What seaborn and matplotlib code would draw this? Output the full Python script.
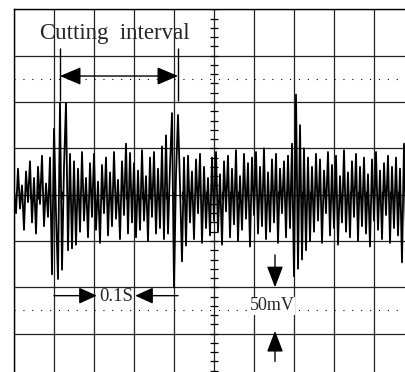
import numpy as np
import pandas as pd
import matplotlib
matplotlib.use('Agg')
import matplotlib.pyplot as plt
import seaborn as sns

# screen: 10 divisions across, 8 up/down
ms_per_div = 100 / 3      # 0.1 s spans three divisions
mv_per_div = 50
n_xdiv = 10
n_ydiv = 8

# trace peaks, one every 1.67 ms (mV)
signal_mv = [
    5, -20, 28, -15, 10, -38, 25, -8, 36, -30,
    18, -42, 30, -10, 42, -34, 12, -24, 40, -86,
    71, -20, -91, 99, -81, 30, 99, -60, 44, -58,
    36, -54, 28, -40, 46, -28, 18, -46, 34, -24,
    44, -38, 14, -52, 32, -20, 40, -44, 24, -34,
    46, -26, 16, -48, 36, -22, 55, -42, 45, -30,
    34, -46, 26, -38, 48, -28, 20, -50, 40, -24,
    46, -42, 28, -36, 52, -48, 64, -42, 30, 88,
    -100, 20, 86, 10, -72, 40, -55, 42, -30, 25,
    -48, 38, -20, 44, -52, 30, -36, 18, -44, 40,
    -28, 46, -40, 22, -54, 36, -18, 42, -46, 28,
    -32, 48, -50, 20, -38, 44, -26, 34, -56, 40,
    -22, 46, -42, 30, -34, 50, -48, 24, -40, 38,
    -30, 44, -52, 28, -20, 36, -46, 42, -36, 55,
    -88, 108, -80, 75, -70, 50, -60, 40, -50, 30,
    -40, 44, -28, 38, -52, 26, -20, 46, -44, 32,
    -36, 42, -54, 20, -30, 48, -40, 24, -46, 36,
    -24, 44, -50, 30, -34, 40, -42, 22, -56, 38,
    -28, 46, -38, 26, -48, 34, -22, 42, -52, 30,
    -36, 40, -44, 28, -73, 55, -40, 30, -50, 20,
]
sample_ms = 5 / 3

# annotations
cut_marks_ms = [38.3, 136.7]       # start / end of one cutting interval
cut_label = 'Cutting  interval'
period_label = '0.1S'
period_ms = [33.3, 136.7]
volt_label = '50mV'
volt_span_mv = [-100, -147]
volt_x_ms = 217.5

df = pd.DataFrame({'t': np.arange(len(signal_mv)) * sample_ms, 'mv': signal_mv})

sns.set_style('white')
plt.rcParams['font.family'] = ['Liberation Serif', 'DejaVu Serif']

fig = plt.figure(figsize=(4.05, 3.72), dpi=100)
ax = fig.add_axes([14 / 405, -8 / 372, 400 / 405, 370.7 / 372])

x_max = n_xdiv * ms_per_div
y_max = n_ydiv / 2 * mv_per_div
ax.set_xlim(0, x_max)
ax.set_ylim(-y_max, y_max)

# graticule
ax.set_xticks(np.arange(0, n_xdiv + 1) * ms_per_div)
ax.set_yticks(np.arange(-n_ydiv / 2, n_ydiv / 2 + 1) * mv_per_div)
ax.tick_params(length=0, labelbottom=False, labelleft=False)
ax.grid(True, color='#222222', lw=0.9)
for s in ax.spines.values():
    s.set_color('black')
    s.set_linewidth(1.0)
for yd in [125, -125]:
    ax.axhline(yd, color='black', lw=0.8, ls=(0, (1, 7)))
# minor ticks on the centre axes
cx = x_max / 2
yt = np.arange(-y_max, y_max + 1, mv_per_div / 5)
ax.plot(np.full_like(yt, cx), yt, ls='none', marker='_', ms=6, mew=0.9, color='black')
xt = np.arange(0, x_max + 0.1, ms_per_div / 5)
ax.plot(xt, np.zeros_like(xt), ls='none', marker='|', ms=6, mew=0.9, color='black')

# the trace
sns.lineplot(data=df, x='t', y='mv', ax=ax, color='black', lw=1.3)
ax.set_xlabel('')
ax.set_ylabel('')

# cutting interval markers
ax.vlines(cut_marks_ms, 101, 158, color='black', lw=1.0)
ax.annotate('', xy=(cut_marks_ms[0], 128), xytext=(cut_marks_ms[1], 128),
            arrowprops=dict(arrowstyle='<|-|>,head_length=13,head_width=5.5',
                            mutation_scale=1, color='black', lw=1.0,
                            shrinkA=0, shrinkB=0))
ax.text(21.5, 174, cut_label, fontsize=16.5, va='center', ha='left')

# time scale
ax.annotate('', xy=(69, -109), xytext=(period_ms[0], -109),
            arrowprops=dict(arrowstyle='-|>,head_length=11,head_width=5',
                            mutation_scale=1, color='black', lw=1.0,
                            shrinkA=0, shrinkB=0))
ax.annotate('', xy=(101, -109), xytext=(period_ms[1], -109),
            arrowprops=dict(arrowstyle='-|>,head_length=11,head_width=5',
                            mutation_scale=1, color='black', lw=1.0,
                            shrinkA=0, shrinkB=0))
ax.text(85, -110, period_label, fontsize=13.5, va='center', ha='center')

# voltage scale
ax.annotate('', xy=(volt_x_ms, volt_span_mv[0]), xytext=(volt_x_ms, -65),
            arrowprops=dict(arrowstyle='-|>,head_length=13,head_width=5',
                            mutation_scale=1, color='black', lw=1.0,
                            shrinkA=0, shrinkB=0))
ax.annotate('', xy=(volt_x_ms, volt_span_mv[1]), xytext=(volt_x_ms, -180),
            arrowprops=dict(arrowstyle='-|>,head_length=13,head_width=5',
                            mutation_scale=1, color='black', lw=1.0,
                            shrinkA=0, shrinkB=0))
ax.text(196.5, -120, volt_label, fontsize=13, va='center', ha='left',
        bbox=dict(fc='white', ec='none', pad=0.5))

fig.savefig('out.png', dpi=100)
